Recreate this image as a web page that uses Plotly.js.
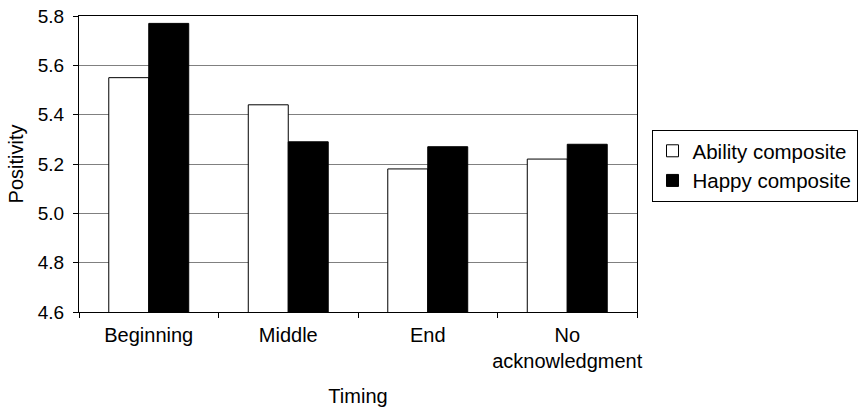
<!DOCTYPE html>
<html>
<head>
<meta charset="utf-8">
<script src="https://cdn.plot.ly/plotly-3.0.1.min.js"></script>
<style>html,body{margin:0;padding:0;background:#fff;}#chart{width:858px;height:407px;}</style>
</head>
<body>
<div id="chart"></div>
<script>
const categories = ["Beginning", "Middle", "End", "No<br>acknowledgment"];
const abilityValues = [5.55, 5.44, 5.18, 5.22];
const happyValues = [5.77, 5.29, 5.27, 5.28];
const seriesNames = ["Ability composite", "Happy composite"];
const yTicks = [4.6, 4.8, 5.0, 5.2, 5.4, 5.6, 5.8];

const fam = "Liberation Sans, Arial, sans-serif";
const font = {family: fam, size: 20, color: "#000"};
const yTickFont = {family: fam, size: 19, color: "#000"};
const legendFont = {family: fam, size: 20.5, color: "#000"};

const traces = [
  {type: "bar", name: seriesNames[0], x: categories, y: abilityValues,
   marker: {color: "#ffffff", line: {color: "#000", width: 1}}},
  {type: "bar", name: seriesNames[1], x: categories, y: happyValues,
   marker: {color: "#000000", line: {color: "#000", width: 1}}}
];

const layout = {
  width: 858, height: 407,
  margin: {l: 79, r: 221, t: 16, b: 95, autoexpand: false},
  paper_bgcolor: "#fff", plot_bgcolor: "#fff",
  font: font,
  barmode: "group", bargap: 0.427, bargroupgap: 0,
  showlegend: true,
  legend: {x: 1.026, xanchor: "left", y: 0.615, yanchor: "top",
           bordercolor: "#000", borderwidth: 1, font: legendFont,
           tracegroupgap: 0, itemwidth: 30},
  xaxis: {
    type: "category", tickson: "boundaries", ticks: "outside", ticklen: 5,
    tickangle: 0, ticklabelstandoff: 5, automargin: false,
    tickcolor: "#000", showline: true, linecolor: "#000", linewidth: 1,
    mirror: true, showgrid: false, tickfont: font,
    title: {text: "Timing", font: font, standoff: 19}
  },
  yaxis: {
    range: [4.6, 5.8], tickvals: yTicks, ticktext: yTicks.map(v => v.toFixed(1)),
    ticks: "outside", ticklen: 5, tickcolor: "#000", ticklabelstandoff: 5,
    automargin: false,
    showline: true, linecolor: "#000", linewidth: 1, mirror: true,
    showgrid: true, gridcolor: "#808080", gridwidth: 1, zeroline: false,
    tickfont: yTickFont,
    title: {text: "Positivity", font: font, standoff: 8}
  }
};

Plotly.newPlot("chart", traces, layout, {staticPlot: true, displayModeBar: false});
</script>
</body>
</html>
